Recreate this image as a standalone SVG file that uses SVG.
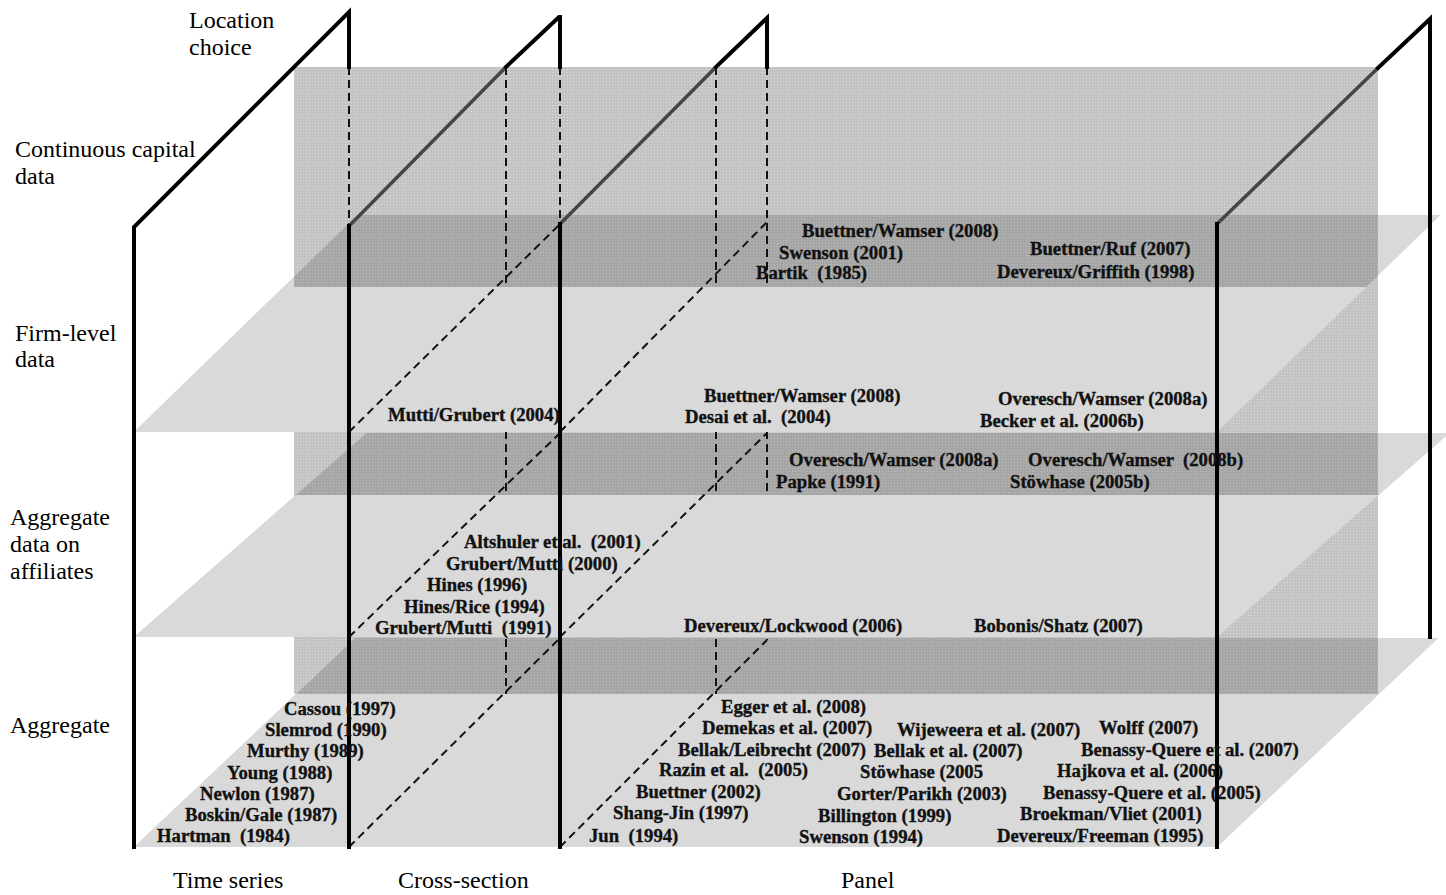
<svg xmlns="http://www.w3.org/2000/svg" width="1446" height="895" viewBox="0 0 1446 895">
<defs>
<pattern id="pm" width="3" height="3" patternUnits="userSpaceOnUse"><rect width="3" height="3" fill="#c3c3c3"/><rect width="1" height="1" fill="#dcdcdc"/></pattern>
<pattern id="pd" width="3" height="3" patternUnits="userSpaceOnUse"><rect width="3" height="3" fill="#a6a6a6"/><rect width="1" height="1" fill="#bcbcbc"/></pattern>
<clipPath id="cA"><rect x="294" y="215" width="1084" height="72"/></clipPath>
<clipPath id="cB"><rect x="294" y="433" width="1084" height="62"/></clipPath>
<clipPath id="cC"><rect x="294" y="638" width="1084" height="56"/></clipPath>
</defs>
<style>
.pl{fill:#d9d9d9}
.fr{stroke:#000;stroke-width:4;fill:none;stroke-linecap:square}
.fi{stroke:#454545;stroke-width:3.5;fill:none}
.ds{stroke:#111;stroke-width:2;fill:none;stroke-dasharray:8 5}
.lb{font-family:"Liberation Serif","Times New Roman",serif;font-size:24px;fill:#000}
.ct{font-family:"Liberation Serif","Times New Roman",serif;font-size:18.7px;font-weight:bold;fill:#111;stroke:#111;stroke-width:0.35;white-space:pre}
</style>
<rect width="1446" height="895" fill="#fff"/>
<g id="planes-back">
<polygon class="pl" points="134,432 357.5,215 1440.5,215 1217,432"/>
<polygon class="pl" points="134,637 366.6,433 1449.6,433 1217,637"/>
<polygon class="pl" points="134,847 355.5,638 1438.5,638 1217,847"/>
</g>
<g id="wall">
<rect x="294" y="67" width="1084" height="627" fill="url(#pm)"/>
<polygon clip-path="url(#cA)" fill="url(#pd)" points="134,432 357.5,215 1440.5,215 1217,432"/>
<polygon clip-path="url(#cB)" fill="url(#pd)" points="134,637 366.6,433 1449.6,433 1217,637"/>
<polygon clip-path="url(#cC)" fill="url(#pd)" points="134,847 355.5,638 1438.5,638 1217,847"/>
</g>
<g id="hidden-lines">
<line class="ds" x1="349" y1="67" x2="349" y2="226"/>
<line class="ds" x1="560" y1="67" x2="560" y2="224"/>
<line class="ds" x1="506" y1="67" x2="506" y2="694"/>
<line class="ds" x1="716" y1="67" x2="716" y2="694"/>
<line class="ds" x1="767" y1="67" x2="767" y2="640"/>
<line class="fi" x1="349" y1="226" x2="506" y2="67"/>
<line class="fi" x1="560" y1="224" x2="716" y2="67"/>
<line class="fi" x1="1217" y1="224" x2="1378" y2="68"/>
</g>
<g id="planes-front">
<polygon class="pl" points="134,432 283.4,287 1366.4,287 1217,432"/>
<polygon class="pl" points="134,637 295.9,495 1378.9,495 1217,637"/>
<polygon class="pl" points="134,847 296.2,694 1379.2,694 1217,847"/>
</g>
<g id="connectors">
<line class="ds" x1="349" y1="847" x2="560" y2="638"/>
<line class="ds" x1="560" y1="847" x2="767" y2="640"/>
<line class="ds" x1="349" y1="637" x2="560" y2="433"/>
<line class="ds" x1="560" y1="637" x2="767" y2="433"/>
<line class="ds" x1="349" y1="432" x2="560" y2="224"/>
<line class="ds" x1="560" y1="432" x2="767" y2="222"/>
<polyline class="fr" points="134,847 134,227 349,12 349,67"/>
<line class="fr" x1="349" y1="226" x2="349" y2="847"/>
<polyline class="fr" points="506,67 559,17 560,17 560,67"/>
<line class="fr" x1="560" y1="224" x2="560" y2="847"/>
<polyline class="fr" points="716,67 767,18 767,67"/>
<line class="fr" x1="1217" y1="224" x2="1217" y2="847"/>
<polyline class="fr" points="1378,68 1430,19 1430,637"/>
</g>
<g id="axis-labels">
<text class="lb" x="189" y="28">Location</text>
<text class="lb" x="189" y="55">choice</text>
<text class="lb" x="15" y="157">Continuous capital</text>
<text class="lb" x="15" y="184">data</text>
<text class="lb" x="15" y="341">Firm-level</text>
<text class="lb" x="15" y="367">data</text>
<text class="lb" x="10" y="525">Aggregate</text>
<text class="lb" x="10" y="552">data on</text>
<text class="lb" x="10" y="579">affiliates</text>
<text class="lb" x="10" y="733">Aggregate</text>
<text class="lb" x="173" y="888">Time series</text>
<text class="lb" x="398" y="888">Cross-section</text>
<text class="lb" x="841" y="888">Panel</text>
</g>
<g id="location-choice-refs">
<text class="ct" x="802" y="237">Buettner/Wamser (2008)</text>
<text class="ct" x="779" y="259">Swenson (2001)</text>
<text class="ct" x="756" y="279">Bartik  (1985)</text>
<text class="ct" x="1030" y="255">Buettner/Ruf (2007)</text>
<text class="ct" x="997" y="278">Devereux/Griffith (1998)</text>
</g>
<g id="firm-level-refs">
<text class="ct" x="388" y="421">Mutti/Grubert (2004)</text>
<text class="ct" x="704" y="402">Buettner/Wamser (2008)</text>
<text class="ct" x="685" y="423">Desai et al.  (2004)</text>
<text class="ct" x="998" y="405">Overesch/Wamser (2008a)</text>
<text class="ct" x="980" y="427">Becker et al. (2006b)</text>
<text class="ct" x="789" y="466">Overesch/Wamser (2008a)</text>
<text class="ct" x="776" y="488">Papke (1991)</text>
<text class="ct" x="1028" y="466">Overesch/Wamser  (2008b)</text>
<text class="ct" x="1010" y="488">Stöwhase (2005b)</text>
</g>
<g id="affiliates-refs">
<text class="ct" x="464" y="548">Altshuler et al.  (2001)</text>
<text class="ct" x="446" y="570">Grubert/Mutti (2000)</text>
<text class="ct" x="427" y="591">Hines (1996)</text>
<text class="ct" x="404" y="613">Hines/Rice (1994)</text>
<text class="ct" x="375" y="634">Grubert/Mutti  (1991)</text>
<text class="ct" x="684" y="632">Devereux/Lockwood (2006)</text>
<text class="ct" x="974" y="632">Bobonis/Shatz (2007)</text>
</g>
<g id="aggregate-refs">
<text class="ct" x="284" y="715">Cassou (1997)</text>
<text class="ct" x="265" y="736">Slemrod (1990)</text>
<text class="ct" x="247" y="757">Murthy (1989)</text>
<text class="ct" x="227" y="779">Young (1988)</text>
<text class="ct" x="200" y="800">Newlon (1987)</text>
<text class="ct" x="185" y="821">Boskin/Gale (1987)</text>
<text class="ct" x="157" y="842">Hartman  (1984)</text>
<text class="ct" x="589" y="842">Jun  (1994)</text>
<text class="ct" x="721" y="713">Egger et al. (2008)</text>
<text class="ct" x="702" y="734">Demekas et al. (2007)</text>
<text class="ct" x="897" y="736">Wijeweera et al. (2007)</text>
<text class="ct" x="678" y="756">Bellak/Leibrecht (2007)</text>
<text class="ct" x="874" y="757">Bellak et al. (2007)</text>
<text class="ct" x="659" y="776">Razin et al.  (2005)</text>
<text class="ct" x="860" y="778">Stöwhase (2005</text>
<text class="ct" x="636" y="798">Buettner (2002)</text>
<text class="ct" x="837" y="800">Gorter/Parikh (2003)</text>
<text class="ct" x="613" y="819">Shang-Jin (1997)</text>
<text class="ct" x="818" y="822">Billington (1999)</text>
<text class="ct" x="799" y="843">Swenson (1994)</text>
<text class="ct" x="997" y="842">Devereux/Freeman (1995)</text>
<text class="ct" x="1099" y="734">Wolff (2007)</text>
<text class="ct" x="1081" y="756">Benassy-Quere et al. (2007)</text>
<text class="ct" x="1057" y="777">Hajkova et al. (2006)</text>
<text class="ct" x="1043" y="799">Benassy-Quere et al. (2005)</text>
<text class="ct" x="1020" y="820">Broekman/Vliet (2001)</text>
</g>
</svg>
